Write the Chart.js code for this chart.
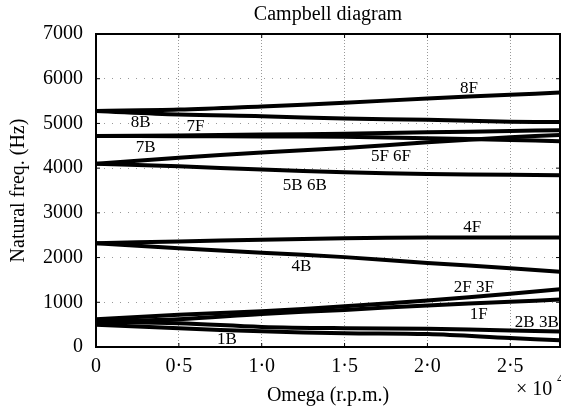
<!DOCTYPE html>
<html><head><meta charset="utf-8">
<script src="https://cdn.jsdelivr.net/npm/chart.js@4"></script>
<style>html,body{margin:0;padding:0;background:#fff}#wrap{width:561px;height:409px}</style>
</head><body><div id="wrap"><canvas id="c" width="561" height="409"></canvas></div>
<script>
// ---- data ----
const omega   = [0, 5000, 10000, 15000, 20000, 25000, 28000];
const mode8F  = [5280, 5310, 5380, 5460, 5560, 5640, 5690];
const mode8B  = [5280, 5200, 5160, 5110, 5080, 5040, 5030];
const mode7F  = [4720, 4730, 4750, 4770, 4800, 4830, 4850];
const mode7B  = [4720, 4715, 4710, 4700, 4670, 4630, 4600];
const mode56F = [4100, 4230, 4350, 4450, 4580, 4690, 4740];
const mode56B = [4100, 4040, 3970, 3910, 3870, 3850, 3840];
const mode4F  = [2320, 2360, 2400, 2430, 2450, 2450, 2450];
const mode4B  = [2320, 2210, 2110, 2010, 1880, 1760, 1680];
const mode23F = [620, 720, 800, 910, 1040, 1190, 1290];
const mode1F  = [580, 620, 740, 830, 930, 1010, 1060];
const mode23B = [560, 530, 450, 420, 410, 370, 345];
const mode1B  = [500, 420, 350, 310, 290, 200, 150];

const xTickValues = [0, 5000, 10000, 15000, 20000, 25000];
const yTickValues = [0, 1000, 2000, 3000, 4000, 5000, 6000, 7000];

const curveLabels = ['8F', '8B', '7F', '7B', '5F 6F', '5B 6B', '4F', '4B', '2F 3F', '1F', '2B 3B', '1B'];
const labelOmega  = [22500, 2700, 6000, 3000, 17800, 12600, 22700, 12400, 22800, 23100, 26600, 7900];
const labelFreq   = [5790, 5010, 4920, 4470, 4250, 3620, 2680, 1790, 1340, 715, 537, 157];

const titleText = 'Campbell diagram';
const xTitle = 'Omega (r.p.m.)';
const yTitle = 'Natural freq. (Hz)';

// ---- chart ----
const SERIF = "'Liberation Serif', 'DejaVu Serif', serif";
const series = [mode8F, mode8B, mode7F, mode7B, mode56F, mode56B, mode4F, mode4B, mode23F, mode1F, mode23B, mode1B];
const datasets = series.map((vals, i) => ({
  label: curveLabels[i],
  data: omega.map((x, j) => ({x: x, y: vals[j]})),
  borderColor: '#000',
  borderWidth: 4,
  pointRadius: 0,
  tension: 0.35,
  fill: false
}));

const annotate = {
  id: 'annotate',
  afterDraw(chart) {
    const {ctx, chartArea: a, scales: {x, y}} = chart;
    ctx.save();
    // frame
    ctx.strokeStyle = '#000';
    ctx.lineWidth = 2;
    ctx.strokeRect(a.left, a.top, a.right - a.left, a.bottom - a.top);
    // inward ticks
    ctx.lineWidth = 1;
    ctx.beginPath();
    xTickValues.forEach(v => {
      const px = x.getPixelForValue(v);
      ctx.moveTo(px, a.bottom); ctx.lineTo(px, a.bottom - 4);
      ctx.moveTo(px, a.top); ctx.lineTo(px, a.top + 4);
    });
    yTickValues.forEach(v => {
      const py = y.getPixelForValue(v);
      ctx.moveTo(a.left, py); ctx.lineTo(a.left + 4, py);
      ctx.moveTo(a.right, py); ctx.lineTo(a.right - 4, py);
    });
    ctx.stroke();
    // title
    ctx.fillStyle = '#000';
    ctx.textAlign = 'center';
    ctx.textBaseline = 'middle';
    ctx.font = '20px ' + SERIF;
    ctx.fillText(titleText, (a.left + a.right) / 2, 15);
    // curve labels
    ctx.font = '17px ' + SERIF;
    curveLabels.forEach((t, i) => {
      ctx.fillText(t, x.getPixelForValue(labelOmega[i]), y.getPixelForValue(labelFreq[i]));
    });
    // exponent
    ctx.textAlign = 'left';
    ctx.font = '20px ' + SERIF;
    ctx.fillText('\u00D7 10', 516, 390);
    ctx.font = '15px ' + SERIF;
    ctx.fillText('4', 557, 379);
    ctx.restore();
  }
};

new Chart(document.getElementById('c'), {
  type: 'line',
  data: {datasets},
  options: {
    responsive: false,
    animation: false,
    devicePixelRatio: 1,
    layout: {padding: {top: 34, right: 1, left: 0, bottom: 0}},
    plugins: {legend: {display: false}, title: {display: false}, tooltip: {enabled: false}},
    scales: {
      x: {
        type: 'linear', min: 0, max: 28000,
        afterBuildTicks: s => { s.ticks = xTickValues.map(v => ({value: v})); },
        afterFit: s => { s.height = 62; },
        ticks: {
          color: '#000', padding: 8, maxRotation: 0, autoSkip: false,
          font: {family: SERIF, size: 20},
          callback: v => v === 0 ? '0' : (v / 10000).toFixed(1).replace('.', '\u00B7')
        },
        grid: {color: '#999', lineWidth: 1, drawTicks: false},
        border: {display: false, dash: [1, 2]},
        title: {display: true, text: xTitle, color: '#000', font: {family: SERIF, size: 20}, padding: {top: 0, bottom: 1}}
      },
      y: {
        type: 'linear', min: 0, max: 7000,
        afterBuildTicks: s => { s.ticks = yTickValues.map(v => ({value: v})); },
        afterFit: s => { s.width = 96; },
        ticks: {color: '#000', padding: 13, font: {family: SERIF, size: 20}, callback: v => String(v)},
        grid: {color: '#999', lineWidth: 1, drawTicks: false},
        border: {display: false, dash: [1, 7]},
        title: {display: true, text: yTitle, color: '#000', font: {family: SERIF, size: 20}, padding: {top: 7, bottom: 0}}
      }
    }
  },
  plugins: [annotate]
});
</script>
</body></html>
